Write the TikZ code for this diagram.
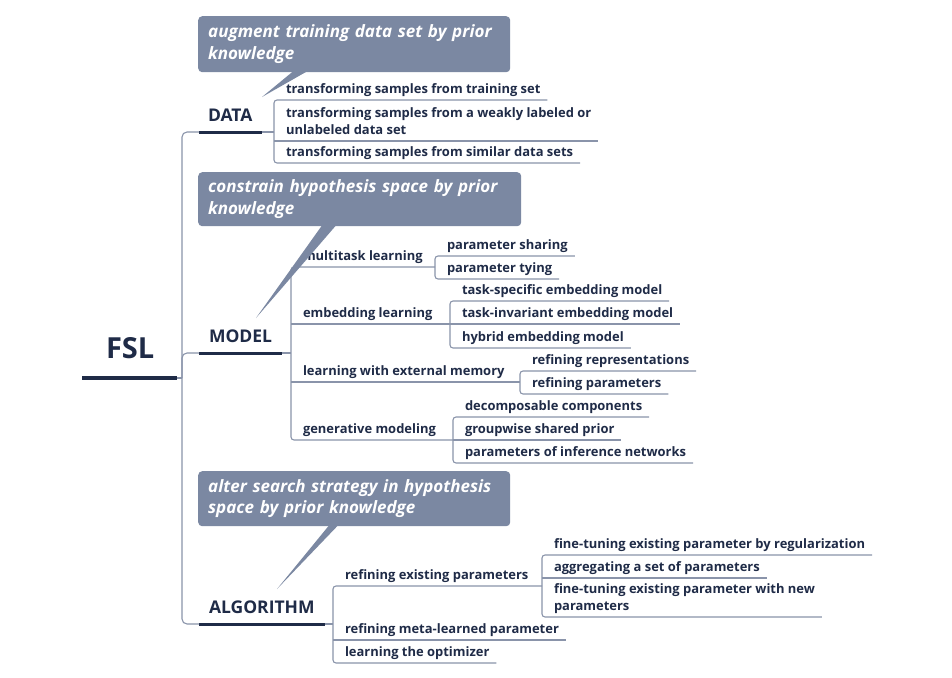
\documentclass[tikz,border=0pt]{standalone}
\usepackage{fontspec}
\setmainfont{Open Sans}
\usetikzlibrary{calc}

\definecolor{ink}{HTML}{1F2B47}
\definecolor{linec}{HTML}{8A94AA}
\definecolor{calloutc}{HTML}{7B88A2}

\tikzset{
  conn/.style={draw=linec, line width=1.1pt, rounded corners=3pt},
  trunk/.style={draw=linec, line width=1.1pt, rounded corners=5pt},
  topicline/.style={draw=ink, line width=3pt},
  rootline/.style={draw=ink, line width=3.4pt},
  leaf/.style={anchor=base west, inner sep=0pt, outer sep=0pt, text=ink,
    font=\fontsize{12.95}{17}\selectfont\bfseries, align=left},
  topic/.style={anchor=base west, inner sep=0pt, outer sep=0pt, text=ink,
    font=\fontsize{17.5}{20}\selectfont\bfseries},
  root/.style={anchor=base west, inner sep=0pt, outer sep=0pt, text=ink,
    font=\fontsize{29}{32}\selectfont\bfseries},
  callout/.style={anchor=north west, fill=calloutc, rounded corners=4pt,
    inner xsep=10pt, inner ysep=0pt, align=left, text=white,
    font=\fontsize{17}{21.5}\selectfont\bfseries\itshape},
}

% item without children: name, bracket x, underline y, label
% (a multi-line label sits with its last line on the underline)
\newcommand\twig[4]{%
  \coordinate (#1-a) at (#2,#3);
  \node[leaf] (#1) at (#2+12,#3-7) {#4};
  \coordinate (#1-b) at ($(#1-a -| #1.east)+(7,0)$);
}
% item with children: name, bracket x, underline y, label, child bracket x
\newcommand\limb[5]{%
  \coordinate (#1-a) at (#2,#3);
  \node[leaf] (#1) at (#2+12,#3-7) {#4};
  \coordinate (#1-b) at (#5,#3);
}

\begin{document}
\begin{tikzpicture}[x=1pt, y=-1pt]
\fill[white] (0,0) rectangle (952,677);
\useasboundingbox (0,0) rectangle (952,677);

% ---------- root ----------
\node[root] (fsl) at (106,358) {FSL};
\draw[rootline] ($(fsl.base west)+(-24,20)$) -- ($(fsl.base east)+(23,20)$) coordinate (fsl-u);
\coordinate (hub) at (182,378);

% ---------- main topics ----------
\node[topic] (data) at (208,121.5) {DATA};
\draw[topicline] ($(data.base west)+(-9,10.5)$) coordinate (data-l) -- ($(data.base east)+(10,10.5)$) coordinate (data-r);

\node[topic] (model) at (209,342.5) {MODEL};
\draw[topicline] ($(model.base west)+(-10,10.5)$) coordinate (model-l) -- ($(model.base east)+(10,10.5)$) coordinate (model-r);

\node[topic] (algo) at (209,613.5) {ALGORITHM};
\draw[topicline] ($(algo.base west)+(-10,10.5)$) coordinate (algo-l) -- ($(algo.base east)+(10,10.5)$) coordinate (algo-r);

\draw[conn] (fsl-u) -- (hub);
\draw[trunk] (hub) |- (data-l);
\draw[trunk] (hub) |- (model-l);
\draw[trunk] (hub) |- (algo-l);

% ---------- DATA ----------
\twig{d1}{274}{100}{transforming samples from training set}
\twig{d2}{274}{141}{transforming samples from a weakly labeled or\\unlabeled data set}
\twig{d3}{274}{163}{transforming samples from similar data sets}
\draw[conn] (data-r) -- (data-r -| d1-a);
\draw[conn] (d1-b) -- (d1-a) -- (d3-a) -- (d3-b);
\draw[conn] (d2-a) -- (d2-b);

% ---------- MODEL ----------
\limb{m1}{291}{267}{multitask learning}{435}
\limb{m2}{291}{324}{embedding learning}{450}
\limb{m3}{291}{382}{learning with external memory}{520}
\limb{m4}{291}{440}{generative modeling}{453}
\draw[conn] (model-r) -- (model-r -| m1-a);
\draw[conn] (m1-b) -- (m1-a) -- (m4-a) -- (m4-b);
\draw[conn] (m2-a) -- (m2-b);
\draw[conn] (m3-a) -- (m3-b);

\twig{m1a}{435}{256}{parameter sharing}
\twig{m1b}{435}{279}{parameter tying}
\draw[conn] (m1a-b) -- (m1a-a) -- (m1b-a) -- (m1b-b);

\twig{m2a}{450}{301}{task-specific embedding model}
\twig{m2b}{450}{324}{task-invariant embedding model}
\twig{m2c}{450}{348}{hybrid embedding model}
\draw[conn] (m2a-b) -- (m2a-a) -- (m2c-a) -- (m2c-b);
\draw[conn] (m2b-a) -- (m2b-b);

\twig{m3a}{520}{371}{refining representations}
\twig{m3b}{520}{394}{refining parameters}
\draw[conn] (m3a-b) -- (m3a-a) -- (m3b-a) -- (m3b-b);

\twig{m4a}{453}{417}{decomposable components}
\twig{m4b}{453}{440}{groupwise shared prior}
\twig{m4c}{453}{463}{parameters of inference networks}
\draw[conn] (m4a-b) -- (m4a-a) -- (m4c-a) -- (m4c-b);
\draw[conn] (m4b-a) -- (m4b-b);

% ---------- ALGORITHM ----------
\limb{a1}{333}{586}{refining existing parameters}{542}
\twig{a2}{333}{640}{refining meta-learned parameter}
\twig{a3}{333}{663}{learning the optimizer}
\draw[conn] (algo-r) -- (algo-r -| a1-a);
\draw[conn] (a1-b) -- (a1-a) -- (a3-a) -- (a3-b);
\draw[conn] (a2-a) -- (a2-b);

\twig{s1}{542}{555}{fine-tuning existing parameter by regularization}
\twig{s2}{542}{578}{aggregating a set of parameters}
\twig{s3}{542}{617}{fine-tuning existing parameter with new\\parameters}
\draw[conn] (s1-b) -- (s1-a) -- (s3-a) -- (s3-b);
\draw[conn] (s2-a) -- (s2-b);

% ---------- callouts ----------
\node[callout, text width=292pt, minimum height=56pt] (c1) at (198,16)
  {augment training data set by prior\\knowledge};
\coordinate (c1-tip) at (262,97);
\fill[calloutc] ($(c1.south west)+(95,-1)$) -- ($(c1.south west)+(109,-1)$) -- (c1-tip) -- cycle;

\node[callout, text width=303pt, minimum height=54pt] (c2) at (198,172)
  {constrain hypothesis space by prior\\knowledge};
\coordinate (c2-tip) at (256,318);
\fill[calloutc] ($(c2.south west)+(124,-1)$) -- ($(c2.south west)+(138,-1)$) -- (c2-tip) -- cycle;

\node[callout, text width=292pt, minimum height=55pt] (c3) at (198,471)
  {alter search strategy in hypothesis\\space by prior knowledge};
\coordinate (c3-tip) at (277,589);
\fill[calloutc] ($(c3.south west)+(131,-1)$) -- ($(c3.south west)+(140,-1)$) -- (c3-tip) -- cycle;

\end{tikzpicture}
\end{document}
